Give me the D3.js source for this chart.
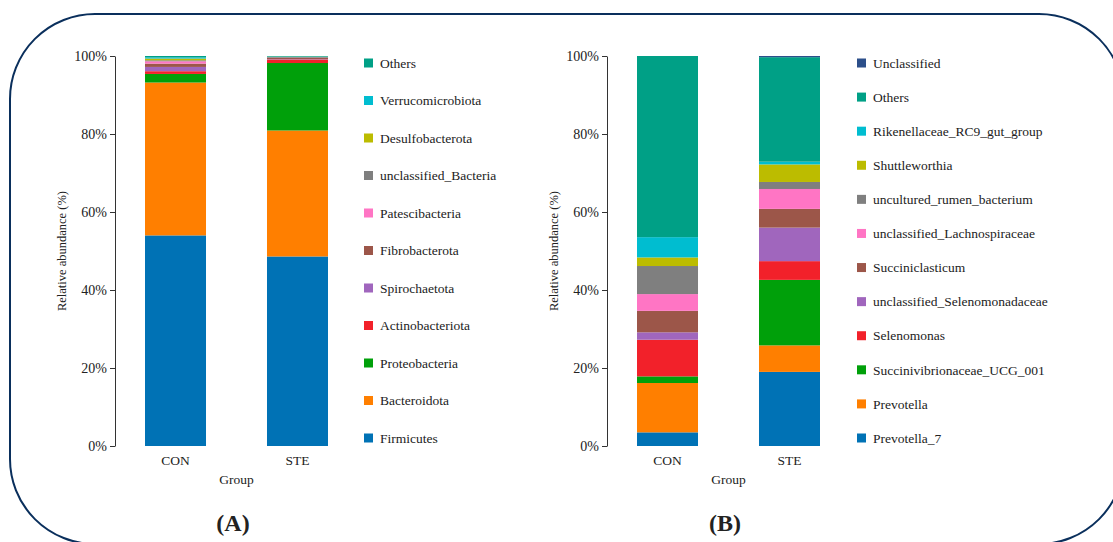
<!DOCTYPE html>
<html>
<head>
<meta charset="utf-8">
<script src="https://cdn.jsdelivr.net/npm/d3@7"></script>
<style>
  body { margin: 0; background: #fff; }
  text { font-family: "Liberation Serif", "Times New Roman", serif; fill: #222; }
  .axis text { font-size: 13.5px; }
  .axis path, .axis line { stroke: #333; }
</style>
</head>
<body>
<div id="chart"></div>
<script>
// groups
const groups = ["CON", "STE"];

// panel A: phylum level, keys bottom -> top
const phylumKeys = ["Firmicutes", "Bacteroidota", "Proteobacteria", "Actinobacteriota", "Spirochaetota",
  "Fibrobacterota", "Patescibacteria", "unclassified_Bacteria", "Desulfobacterota", "Verrucomicrobiota", "Others"];
const phylumCON = [54.0, 39.2, 2.2, 0.7, 1.1, 0.85, 0.6, 0.25, 0.45, 0.3, 0.35];
const phylumSTE = [48.6, 32.3, 17.3, 0.9, 0.1, 0.3, 0.05, 0.2, 0.05, 0.05, 0.15];
const phylumColors = ["#0072b5", "#ff7f00", "#00a00a", "#f2212a", "#a066bd",
  "#9c5649", "#ff75c4", "#7f7f7f", "#bcbc00", "#00bdd0", "#00a086"];

// panel B: genus level, keys bottom -> top
const genusKeys = ["Prevotella_7", "Prevotella", "Succinivibrionaceae_UCG_001", "Selenomonas",
  "unclassified_Selenomonadaceae", "Succiniclasticum", "unclassified_Lachnospiraceae",
  "uncultured_rumen_bacterium", "Shuttleworthia", "Rikenellaceae_RC9_gut_group", "Others", "Unclassified"];
const genusCON = [3.5, 12.65, 1.7, 9.4, 1.9, 5.5, 4.3, 7.2, 2.2, 5.2, 46.45, 0.0];
const genusSTE = [19.0, 6.8, 16.8, 4.8, 8.6, 4.8, 5.1, 1.8, 4.5, 0.7, 26.8, 0.3];
const genusColors = ["#0072b5", "#ff7f00", "#00a00a", "#f2212a", "#a066bd",
  "#9c5649", "#ff75c4", "#7f7f7f", "#bcbc00", "#00bdd0", "#00a086", "#2c4f8a"];

const yTicks = [0, 20, 40, 60, 80, 100];

const width = 1113, height = 542;
const plotTop = 56, plotBottom = 446;

const svg = d3.select("#chart").append("svg")
  .attr("width", width).attr("height", height)
  .attr("viewBox", [0, 0, width, height]);

// rounded frame
svg.append("rect")
  .attr("x", 10).attr("y", 14)
  .attr("width", 1114).attr("height", 530)
  .attr("rx", 85).attr("ry", 85)
  .attr("fill", "none")
  .attr("stroke", "#0a2f5c")
  .attr("stroke-width", 2);

const y = d3.scaleLinear().domain([0, 100]).range([plotBottom, plotTop]);

function panel(axisX, keys, con, ste, colors, legendX, label) {
  const g = svg.append("g");
  const rows = groups.map((grp, i) => {
    const r = { group: grp };
    keys.forEach((k, j) => r[k] = (i === 0 ? con : ste)[j]);
    return r;
  });

  const x = d3.scaleBand()
    .domain(groups)
    .range([axisX, axisX + 243])
    .paddingInner(0.5)
    .paddingOuter(0.246);

  const color = d3.scaleOrdinal().domain(keys).range(colors);
  const series = d3.stack().keys(keys)(rows);

  g.selectAll("g.layer")
    .data(series)
    .join("g")
    .attr("class", "layer")
    .attr("fill", d => color(d.key))
    .selectAll("rect")
    .data(d => d)
    .join("rect")
      .attr("x", d => x(d.data.group))
      .attr("width", x.bandwidth())
      .attr("y", d => y(d[1]))
      .attr("height", d => Math.max(0, y(d[0]) - y(d[1])));

  // y axis
  g.append("g")
    .attr("class", "axis")
    .attr("transform", `translate(${axisX},0)`)
    .call(d3.axisLeft(y).tickValues(yTicks).tickSize(5).tickSizeOuter(0).tickFormat(d => d + "%"))
    .call(a => a.selectAll("text").attr("fill", "#222").style("font-size", "14px"));

  // x labels
  g.append("g")
    .attr("class", "axis")
    .attr("transform", `translate(0,${plotBottom + 6})`)
    .call(d3.axisBottom(x).tickSize(0))
    .call(a => a.select(".domain").remove())
    .call(a => a.selectAll("text").attr("fill", "#222"));

  g.append("text")
    .attr("x", axisX + 121.5).attr("y", 484)
    .attr("text-anchor", "middle")
    .style("font-size", "13.5px")
    .text("Group");

  g.append("text")
    .attr("transform", `translate(${axisX - 49},${(plotTop + plotBottom) / 2}) rotate(-90)`)
    .attr("text-anchor", "middle")
    .style("font-size", "12.5px")
    .text("Relative abundance (%)");

  g.append("text")
    .attr("x", axisX + 118).attr("y", 531)
    .attr("text-anchor", "middle")
    .style("font-size", "24px")
    .style("font-weight", "bold")
    .text(label);

  // legend, top = last key
  const legendKeys = keys.slice().reverse();
  const ly = d3.scalePoint().domain(legendKeys).range([63, 438]);
  const lg = g.append("g").selectAll("g")
    .data(legendKeys)
    .join("g")
    .attr("transform", d => `translate(${legendX},${ly(d)})`);
  lg.append("rect")
    .attr("x", 0).attr("y", -4.5)
    .attr("width", 9).attr("height", 9)
    .attr("fill", d => color(d));
  lg.append("text")
    .attr("x", 16).attr("dy", "0.35em")
    .style("font-size", "13.5px")
    .text(d => d);
}

panel(115, phylumKeys, phylumCON, phylumSTE, phylumColors, 364, "(A)");
panel(607, genusKeys, genusCON, genusSTE, genusColors, 857, "(B)");
</script>
</body>
</html>
